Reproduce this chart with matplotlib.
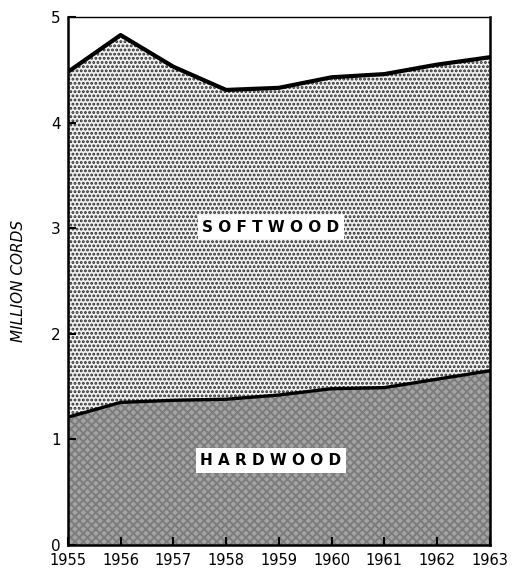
import matplotlib
matplotlib.use("Agg")
import matplotlib.pyplot as plt
import numpy as np

years = [1955, 1956, 1957, 1958, 1959, 1960, 1961, 1962, 1963]
hardwood = [1.21, 1.35, 1.37, 1.38, 1.42, 1.48, 1.49, 1.57, 1.65]
total = [4.48, 4.83, 4.53, 4.31, 4.33, 4.43, 4.46, 4.55, 4.62]
yticks = [0, 1, 2, 3, 4, 5]

plt.rcParams['hatch.linewidth'] = 1.4
fig = plt.figure(figsize=(5.14, 5.7), dpi=100)
ax = fig.add_axes([0.132, 0.044, 0.821, 0.926])

x = np.array(years)
hw = np.array(hardwood)
tot = np.array(total)

ax.fill_between(x, 0, hw, facecolor='#a4a4a4', edgecolor='#7c7c7c', hatch='xxxx', linewidth=0)
ax.fill_between(x, hw, tot, facecolor='#f2f2f2', edgecolor='#2a2a2a', hatch='....', linewidth=0)
ax.plot(x, hw, color='black', lw=2.4)
ax.plot(x, tot, color='black', lw=3.0)

ax.set_xlim(1955, 1963)
ax.set_ylim(0, 5)
ax.set_xticks(years)
ax.set_xticklabels([str(y) for y in years], fontsize=10.5)
ax.set_yticks(yticks)
ax.set_yticklabels([str(v) for v in yticks], fontsize=11)
ax.tick_params(axis='both', direction='in', length=6, width=1.5, pad=5)
ax.tick_params(axis='x', pad=6)
for s in ['left', 'bottom', 'right']:
    ax.spines[s].set_linewidth(1.8)
ax.spines['top'].set_linewidth(1.0)

ax.set_ylabel('MILLION CORDS', fontsize=11, style='italic', labelpad=18)

bbox = dict(boxstyle='square,pad=0.3', facecolor='white', edgecolor='none')
ax.text(1958.85, 3.01, 'S O F T W O O D', ha='center', va='center', fontsize=11,
        fontweight='bold', bbox=bbox)
ax.text(1958.85, 0.80, 'H A R D W O O D', ha='center', va='center', fontsize=11,
        fontweight='bold', bbox=bbox)

fig.savefig('out.png', dpi=100)
